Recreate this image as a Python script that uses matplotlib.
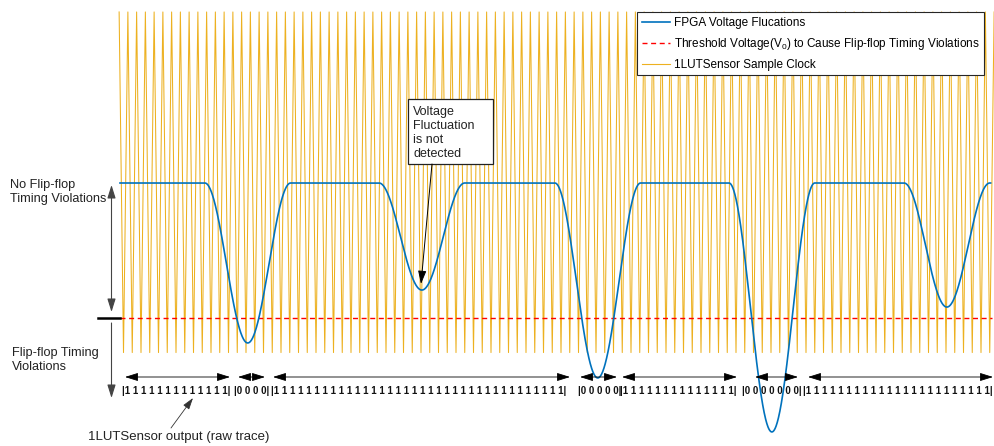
import numpy as np
import matplotlib.pyplot as plt
import matplotlib.transforms as mtransforms
from matplotlib.lines import Line2D
from matplotlib.patches import Rectangle

plt.rcParams['font.family'] = ['Liberation Sans', 'DejaVu Sans']

# time in sample-clock periods, voltage scaled so threshold = 0 and nominal = 1
n_clk = 100
clk_top = 2.267
clk_bottom = -0.256
clk_start = -0.1
v_nominal = 1.0
v_threshold = 0.0
t_end = 99.5

dip_starts = [9.7, 29.6, 49.7, 69.6, 89.6]
dip_len = 9.8
dip_mins = [-0.185, 0.207, -0.444, -0.844, 0.081]

# raw trace of the sensor, one group per run of equal bits
bit_groups = ['1' * 13, '0' * 4, '1' * 36, '0' * 5, '1' * 14, '0' * 7, '1' * 23]

BLUE = '#0072BD'
ORANGE = '#EDB120'
RED = '#FF0000'

W, H = 995, 446
fig = plt.figure(figsize=(W / 100, H / 100), dpi=100)
ax = fig.add_axes([0, 0, 1, 1])
ax.axis('off')
px_per_t = 8.75
ax.set_xlim(-120 / px_per_t, (W - 120) / px_per_t)
ax.set_ylim((318 - H) / 135, 318 / 135)

# pixel coordinates (y down) for the annotations
PX = mtransforms.Affine2D().scale(1 / W, -1 / H).translate(0, 1) + fig.transFigure

# sample clock: triangle wave
ct = clk_start + 0.5 * np.arange(2 * n_clk + 1)
cv = np.where(np.arange(len(ct)) % 2 == 0, clk_top, clk_bottom)
ax.plot(ct, cv, color=ORANGE, lw=0.75, zorder=1)

# voltage: nominal level with cosine shaped droops
t = np.linspace(0, t_end, 3000)
v = np.full_like(t, v_nominal)
for s, m in zip(dip_starts, dip_mins):
    inside = (t >= s) & (t <= s + dip_len)
    ph = (t[inside] - s) / dip_len
    v[inside] = v_nominal - (v_nominal - m) * (1 - np.cos(2 * np.pi * ph)) / 2
ax.plot(t, v, color=BLUE, lw=1.2, zorder=3)

ax.plot([0, t_end + 0.2], [v_threshold, v_threshold], color=RED, lw=1.0,
        dashes=(3.6, 2.6), zorder=2)

handles = [Line2D([], [], color=BLUE, lw=1.2),
           Line2D([], [], color=RED, lw=1.0, dashes=(3.6, 2.6)),
           Line2D([], [], color=ORANGE, lw=0.8)]
labels = ['FPGA Voltage Flucations',
          r'Threshold Voltage($\mathregular{V_0}$) to Cause Flip-flop Timing Violations',
          '1LUTSensor Sample Clock']
leg = fig.legend(handles, labels, loc='upper left', bbox_to_anchor=(637 / W, 1 - 12 / H),
                 bbox_transform=fig.transFigure, fontsize=8.45, frameon=True, fancybox=False,
                 framealpha=1, edgecolor='#262626', borderaxespad=0, borderpad=0.4,
                 handlelength=2.4, handletextpad=0.35, labelspacing=0.6)
leg.get_frame().set_linewidth(0.8)

txt = dict(transform=PX, color='#222222')
fig.text(10, 192, 'No Flip-flop\nTiming Violations', va='center', ha='left', linespacing=1.15,
         fontsize=9.2, **txt)
fig.text(12, 360, 'Flip-flop Timing\nViolations', va='center', ha='left', linespacing=1.15,
         fontsize=9.2, **txt)

dbl = dict(arrowstyle='<|-|>,head_length=0.8,head_width=0.25', color='black', lw=0.8,
           shrinkA=0, shrinkB=0)
ax.annotate('', xy=(111.5, 312), xytext=(111.5, 185), xycoords=PX, textcoords=PX,
            arrowprops=dict(dbl, color='#444444'))
ax.add_line(Line2D([98, 120], [318, 318], transform=PX, color='black', lw=1.8))
ax.annotate('', xy=(111.5, 398), xytext=(111.5, 323), xycoords=PX, textcoords=PX,
            arrowprops=dict(arrowstyle='-|>,head_length=0.8,head_width=0.25',
                            color='#444444', lw=0.8, shrinkA=0, shrinkB=0))

# callout
ax.add_patch(Rectangle((408, 99), 85, 65, transform=PX, facecolor='white',
                       edgecolor='#222222', lw=0.9, zorder=5))
fig.text(413, 133, 'Voltage\nFluctuation\nis not\ndetected', va='center', ha='left',
         linespacing=1.25, zorder=6, fontsize=9, **txt)
ax.annotate('', xy=(421, 284), xytext=(432, 164), xycoords=PX, textcoords=PX,
            arrowprops=dict(arrowstyle='-|>,head_length=0.8,head_width=0.25',
                            color='black', lw=0.7, shrinkA=0, shrinkB=0), zorder=6)

# raw trace bits and spans
bit_left = [122, 234, 271, 578, 620, 742, 803]
span_px = [(125, 230), (238, 265), (273, 570), (580, 617), (622, 737), (755, 798), (808, 993)]
for x0, g in zip(bit_left, bit_groups):
    fig.text(x0, 391, '|' + ' '.join(g) + '|', transform=PX, fontsize=7.0, fontweight='bold',
             va='center', ha='left', color='#111111')
for a, b in span_px:
    ax.annotate('', xy=(b, 377), xytext=(a, 377), xycoords=PX, textcoords=PX,
                arrowprops=dict(dbl, lw=0.6))

fig.text(88, 437, '1LUTSensor output (raw trace)', va='center', ha='left', fontsize=9.5, **txt)
ax.annotate('', xy=(193, 398), xytext=(171, 428), xycoords=PX, textcoords=PX,
            arrowprops=dict(arrowstyle='-|>,head_length=0.7,head_width=0.22',
                            color='#333333', lw=0.6, shrinkA=0, shrinkB=0))

fig.savefig('out.png', dpi=100)
